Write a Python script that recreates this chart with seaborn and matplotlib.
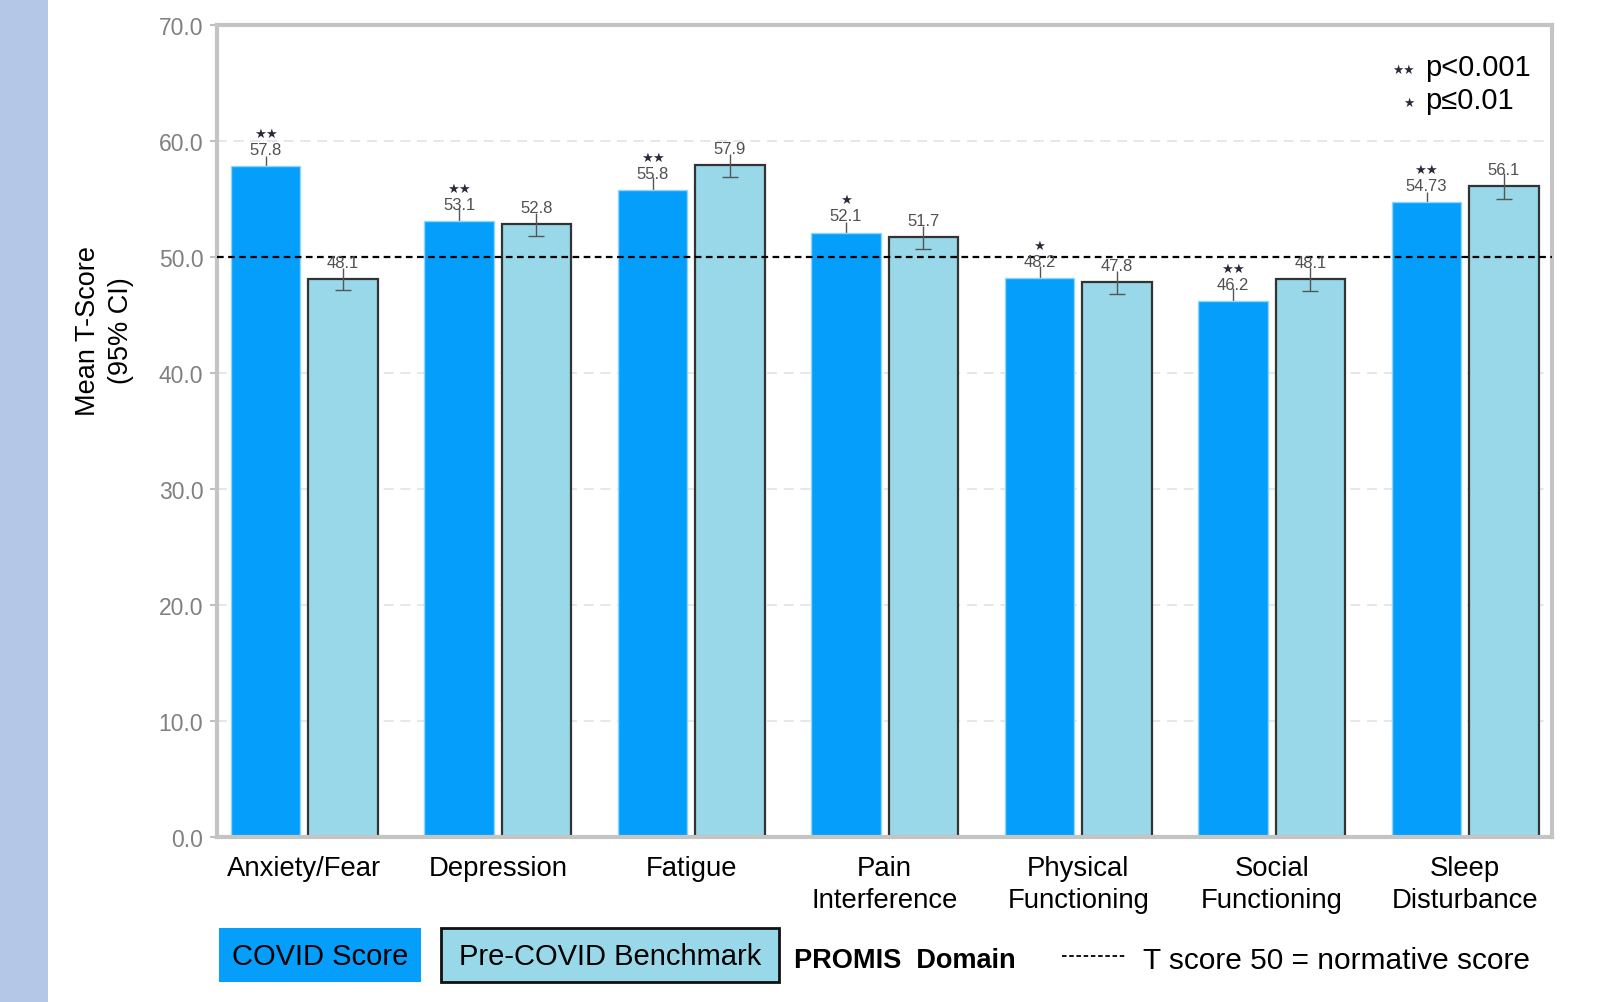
import numpy as np
import pandas as pd
import matplotlib
matplotlib.use("Agg")
import matplotlib.pyplot as plt
from matplotlib.patches import Rectangle
from matplotlib.lines import Line2D
import seaborn as sns

# ---- data ----
domains = ["Anxiety/Fear", "Depression", "Fatigue", "Pain\nInterference",
           "Physical\nFunctioning", "Social\nFunctioning", "Sleep\nDisturbance"]
groups = ["COVID Score", "Pre-COVID Benchmark"]
covid_scores = [57.8, 53.1, 55.8, 52.1, 48.2, 46.2, 54.73]
pre_scores = [48.1, 52.8, 57.9, 51.7, 47.8, 48.1, 56.1]
covid_labels = ["57.8", "53.1", "55.8", "52.1", "48.2", "46.2", "54.73"]
pre_labels = ["48.1", "52.8", "57.9", "51.7", "47.8", "48.1", "56.1"]
covid_ci = [0.9, 1.1, 1.1, 0.9, 1.0, 1.1, 0.9]
pre_ci = [0.95, 1.0, 1.0, 1.0, 1.0, 1.0, 1.1]
covid_stars = ["\u2605\u2605", "\u2605\u2605", "\u2605\u2605", "\u2605", "\u2605",
               "\u2605\u2605", "\u2605\u2605"]
yticks = [0, 10, 20, 30, 40, 50, 60, 70]

COVID_C = "#069efb"
PRE_C = "#98d8e8"

sns.set_theme(style="white")
plt.rcParams["font.family"] = ["Liberation Sans", "DejaVu Sans"]

df = pd.DataFrame({
    "domain": domains * 2,
    "group": [groups[0]] * len(domains) + [groups[1]] * len(domains),
    "score": covid_scores + pre_scores,
})

fig = plt.figure(figsize=(15.97, 10.03), dpi=100)
ax = fig.add_axes([0.136, 0.165, 0.836, 0.809])

sns.barplot(data=df, x="domain", y="score", hue="group", order=domains,
            hue_order=groups, palette=[COVID_C, PRE_C], width=0.8, gap=0.1,
            errorbar=None, legend=False, ax=ax, saturation=1)

edge_styles = [("#8fd6f7", 1.0), ("#333333", 1.6)]
err_z = [0.9, 5]
cis = [covid_ci, pre_ci]
labels = [covid_labels, pre_labels]
bar_conts = list(ax.containers)
for ci_idx, cont in enumerate(bar_conts):
    ec, lw = edge_styles[ci_idx]
    xs, ys = [], []
    for p in cont.patches:
        p.set_edgecolor(ec)
        p.set_linewidth(lw)
        xs.append(p.get_x() + p.get_width() / 2)
        ys.append(p.get_height())
    eb = ax.errorbar(xs, ys, yerr=cis[ci_idx], fmt="none", ecolor="#555555",
                     elinewidth=1.0, capsize=6, capthick=1.0, zorder=err_z[ci_idx])
    caplines = eb[1]
    if len(caplines) > 1:
        caplines[1].set_visible(False)
    for j, (x, y) in enumerate(zip(xs, ys)):
        ax.annotate(labels[ci_idx][j], (x, y), xytext=(0, 12),
                    textcoords="offset points", ha="center", va="center",
                    fontsize=12, color="#505050", zorder=6)
        if ci_idx == 0:
            ax.annotate(covid_stars[j], (x, y), xytext=(0, 23.5),
                        textcoords="offset points", ha="center", va="center",
                        fontsize=9.5, color="#2a2a3a", zorder=6,
                        family=["DejaVu Sans"])

# reference line at 50
ax.axhline(50, color="black", linestyle=(0, (3, 2)), linewidth=1.6, zorder=4)

ax.set_ylim(0, 70)
ax.set_xlim(-0.45, 6.45)
ax.set_yticks(yticks)
ax.set_yticklabels([f"{v:.1f}" for v in yticks], fontsize=16.5, color="#808080")
ax.tick_params(axis="y", length=5, color="#c0c0c0", width=1.5, pad=5, left=True)
ax.tick_params(axis="x", length=0, pad=13, labelsize=19.8, labelcolor="black")
for t in ax.get_xticklabels():
    t.set_linespacing(1.3)
ax.set_xlabel("")
ax.set_ylabel("")
for y in yticks[1:-1]:
    if y != 50:
        ax.axhline(y, color="#dfe3ea", linestyle=(0, (6, 4)), linewidth=1.2, zorder=0)
for s in ax.spines.values():
    s.set_visible(True)
    s.set_color("#c4c4c4")
    s.set_linewidth(3)

# significance legend
ax.text(0.897, 0.945, "\u2605\u2605", transform=ax.transAxes, ha="right", va="center",
        fontsize=9, color="#2a2a3a", family=["DejaVu Sans"])
ax.text(0.905, 0.948, "p<0.001", transform=ax.transAxes, ha="left", va="center",
        fontsize=21, color="black")
ax.text(0.897, 0.905, "\u2605", transform=ax.transAxes, ha="right", va="center",
        fontsize=9, color="#2a2a3a", family=["DejaVu Sans"])
ax.text(0.905, 0.908, "p\u22640.01", transform=ax.transAxes, ha="left", va="center",
        fontsize=21, color="black")

# y label
fig.text(0.0655, 0.67, "Mean T-Score\n(95% CI)", rotation=90, ha="center",
         va="center", fontsize=19.5, color="black", linespacing=1.35)

# left strip
fig.patches.append(Rectangle((0, 0), 48 / 1597, 1, transform=fig.transFigure,
                             facecolor="#b4c7e7", edgecolor="none", zorder=0))

# bottom legend
fig.patches.append(Rectangle((0.137, 0.020), 0.1265, 0.054, transform=fig.transFigure,
                             facecolor=COVID_C, edgecolor="none"))
fig.text(0.2003, 0.046, groups[0], ha="center", va="center", fontsize=21, color="black")
fig.patches.append(Rectangle((0.276, 0.020), 0.212, 0.054, transform=fig.transFigure,
                             facecolor=PRE_C, edgecolor="#111111", linewidth=2))
fig.text(0.382, 0.046, groups[1], ha="center", va="center", fontsize=21, color="black")
fig.text(0.497, 0.042, "PROMIS  Domain", ha="left", va="center", fontsize=19.5,
         fontweight="bold", color="black")
fig.add_artist(Line2D([0.665, 0.706], [0.046, 0.046], transform=fig.transFigure,
                      color="black", linestyle=(0, (2.5, 1.5)), linewidth=1.3))
fig.text(0.716, 0.042, "T score 50 = normative score", ha="left", va="center",
         fontsize=21.5, color="black")

fig.savefig("out.png", dpi=100)
